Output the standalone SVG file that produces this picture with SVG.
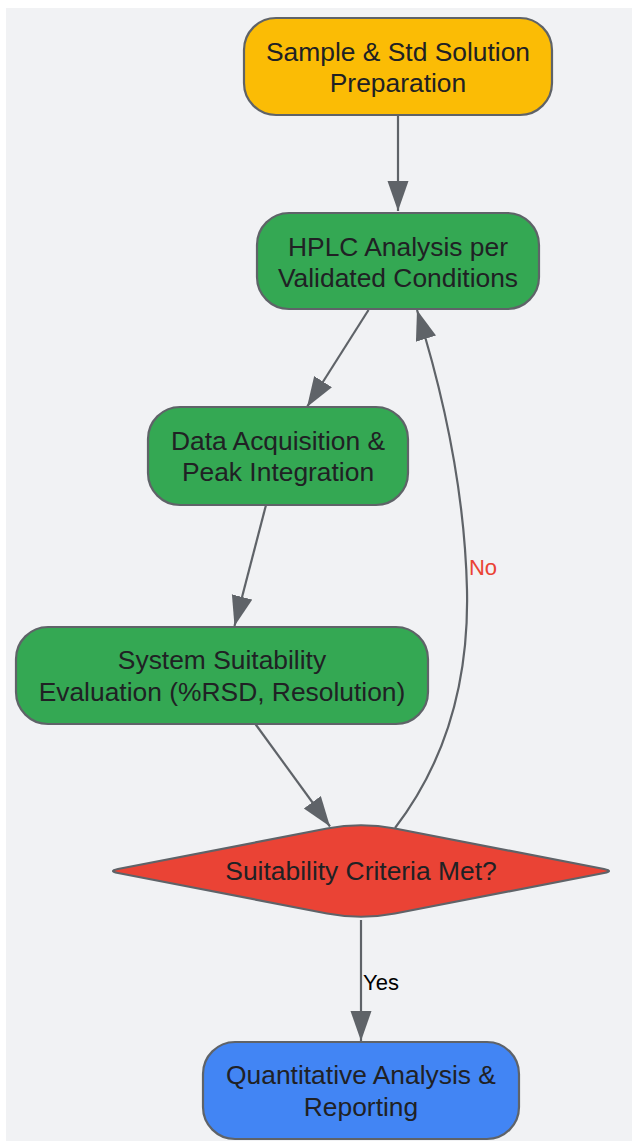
<svg xmlns="http://www.w3.org/2000/svg" width="632" height="1141" viewBox="0 0 632 1141">
<style>
.bg{fill:#f1f2f4}
.node{stroke:#5f6368;stroke-width:2.2}
.lbl{font-family:"Liberation Sans",Arial,sans-serif;font-size:26.4px;fill:#202124;text-anchor:middle}
.edge{fill:none;stroke:#5f6368;stroke-width:2.2}
.elbl{font-family:"Liberation Sans",Arial,sans-serif;font-size:22px;text-anchor:middle}
</style>
<defs>
<marker id="arr" markerUnits="userSpaceOnUse" markerWidth="32" markerHeight="22" refX="30" refY="10.5" orient="auto">
<path d="M0,0 L30,10.5 L0,21 Z" fill="#5f6368"/>
</marker>
</defs>
<rect class="bg" x="6" y="8" width="626" height="1133"/>
<g id="connectors">
<path class="edge" d="M398,115 L398,211" marker-end="url(#arr)"/>
<path class="edge" d="M368.5,310 L307,407" marker-end="url(#arr)"/>
<path class="edge" d="M266,505 L234.5,626" marker-end="url(#arr)"/>
<path class="edge" d="M255,723.5 L330,826.5" marker-end="url(#arr)"/>
<path class="edge" d="M395,828 Q470,730 467,590 Q464,460 417,310" marker-end="url(#arr)"/>
<path class="edge" d="M361,920 L361,1041" marker-end="url(#arr)"/>
<text class="elbl" x="483" y="575" fill="#ea4335">No</text>
<text class="elbl" x="381" y="990" fill="#000000">Yes</text>
</g>
<g id="n1">
<rect class="node" x="244" y="18" width="308" height="97" rx="32" fill="#fbbc05"/>
<text class="lbl" x="398" y="60.5">Sample &amp; Std Solution</text>
<text class="lbl" x="398" y="92">Preparation</text>
</g>
<g id="n2">
<rect class="node" x="257" y="213" width="282" height="96" rx="32" fill="#34a853"/>
<text class="lbl" x="398" y="255.5">HPLC Analysis per</text>
<text class="lbl" x="398" y="287">Validated Conditions</text>
</g>
<g id="n3">
<rect class="node" x="148" y="407" width="260" height="98" rx="32" fill="#34a853"/>
<text class="lbl" x="278" y="449.5">Data Acquisition &amp;</text>
<text class="lbl" x="278" y="481">Peak Integration</text>
</g>
<g id="n4">
<rect class="node" x="16" y="627" width="412" height="97" rx="32" fill="#34a853"/>
<text class="lbl" x="222" y="669">System Suitability</text>
<text class="lbl" x="222" y="700.5">Evaluation (%RSD, Resolution)</text>
</g>
<g id="n5">
<path class="node" d="M118,869 L327,828.5 Q361,822 395,828.5 L604,869 Q614,871 604,873 L395,913.5 Q361,920 327,913.5 L118,873 Q108,871 118,869 Z" fill="#ea4335"/>
<text class="lbl" x="361" y="880">Suitability Criteria Met?</text>
</g>
<g id="n6">
<rect class="node" x="203" y="1042" width="316" height="97" rx="32" fill="#4285f4"/>
<text class="lbl" x="361" y="1084">Quantitative Analysis &amp;</text>
<text class="lbl" x="361" y="1115.5">Reporting</text>
</g>
</svg>
